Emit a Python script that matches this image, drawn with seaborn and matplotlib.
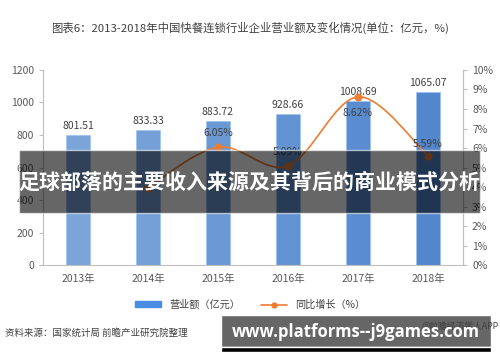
import matplotlib
matplotlib.use("Agg")
import matplotlib.pyplot as plt
import seaborn as sns
import pandas as pd
import numpy as np
from matplotlib.path import Path
from matplotlib.patches import PathPatch, Rectangle
from matplotlib.lines import Line2D

# data
years = ["2013年", "2014年", "2015年", "2016年", "2017年", "2018年"]
revenue = [801.51, 833.33, 883.72, 928.66, 1008.69, 1065.07]
growth_years = ["2014年", "2015年", "2016年", "2017年", "2018年"]
growth = [3.97, 6.05, 5.09, 8.62, 5.59]
bar_colors = ["#6BA2E9", "#649DE8", "#5997E6", "#5090E5", "#478AE3", "#3E83E1"]

sns.set_style("white")
plt.rcParams["font.family"] = ["Noto Sans CJK SC", "DejaVu Sans"]

df = pd.DataFrame({"year": years, "revenue": revenue})

fig = plt.figure(figsize=(5, 3.62), dpi=100)
ax = fig.add_axes([0.086, 0.267, 0.84, 0.54])

sns.barplot(data=df, x="year", y="revenue", hue="year", palette=bar_colors,
            width=0.33, legend=False, ax=ax, edgecolor="#9cc4f2", linewidth=0.5)
for i, v in enumerate(revenue):
    ax.text(i, v + 25, f"{v:.2f}", ha="center", va="bottom", fontsize=7.5, color="#404040")

ax.set_ylim(0, 1200)
ax.set_yticks(range(0, 1201, 200))
ax.set_xlim(-0.5, 5.5)
ax.set_xlabel("")
ax.set_ylabel("")
ax.spines["top"].set_visible(False)
for s in ["left", "bottom", "right"]:
    ax.spines[s].set_color("#bfbfbf")
    ax.spines[s].set_linewidth(0.8)
ax.tick_params(axis="both", labelsize=7.5, colors="#595959", length=3, width=0.8,
               color="#bfbfbf", direction="out")
ax.tick_params(axis="x", length=0, pad=6)

ax2 = ax.twinx()
ax2.set_ylim(0, 10)
ax2.set_yticks(range(0, 11))
ax2.set_yticklabels([f"{t}%" for t in range(0, 11)])
ax2.tick_params(axis="y", labelsize=7.5, colors="#595959", length=3, width=0.8, color="#bfbfbf")
for s in ["top", "left", "bottom"]:
    ax2.spines[s].set_visible(False)
ax2.spines["right"].set_color("#bfbfbf")
ax2.spines["right"].set_linewidth(0.8)

# smooth line (catmull-rom as bezier path)
gx = np.array([years.index(y) for y in growth_years], dtype=float)
gy = np.array(growth, dtype=float)
verts = [(gx[0], gy[0])]
codes = [Path.MOVETO]
n = len(gx)
for i in range(n - 1):
    p0 = (gx[max(i - 1, 0)], gy[max(i - 1, 0)])
    p1 = (gx[i], gy[i])
    p2 = (gx[i + 1], gy[i + 1])
    p3 = (gx[min(i + 2, n - 1)], gy[min(i + 2, n - 1)])
    c1 = (p1[0] + (p2[0] - p0[0]) / 6, p1[1] + (p2[1] - p0[1]) / 6)
    c2 = (p2[0] - (p3[0] - p1[0]) / 6, p2[1] - (p3[1] - p1[1]) / 6)
    verts += [c1, c2, p2]
    codes += [Path.CURVE4] * 3
ax2.add_patch(PathPatch(Path(verts, codes), facecolor="none", edgecolor="#ED7D31", lw=1.2))
sns.scatterplot(x=gx, y=gy, color="#ED7D31", s=28, edgecolor="#ED7D31", ax=ax2, zorder=5)

offsets = [0.45, 0.45, 0.45, -1.1, 0.35]
for x, y, o in zip(gx, gy, offsets):
    if x == 1:
        continue
    ax2.text(x, y + o, f"{y:.2f}%", ha="center", va="bottom", fontsize=7.5, color="#404040")

# title
fig.text(0.5, 0.922, "图表6：2013-2018年中国快餐连锁行业企业营业额及变化情况(单位：亿元，%)",
         ha="center", va="center", fontsize=8.2, color="#404040")

# legend
handles = [Rectangle((0, 0), 1, 1, color="#4A8EE4"),
           Line2D([0], [0], color="#ED7D31", lw=1.2, marker="o", markersize=3.5)]
fig.legend(handles, ["营业额（亿元）", "同比增长（%）"], loc="center", bbox_to_anchor=(0.5, 0.158),
           ncol=2, frameon=False, fontsize=7.3, handlelength=2.6, handleheight=0.5,
           columnspacing=2.0, labelcolor="#404040")

# source
fig.text(0.01, 0.08, "资料来源：国家统计局 前瞻产业研究院整理", ha="left", va="center",
         fontsize=6.8, color="#404040")

# overlay band
fig.patches.append(Rectangle((0.038, 1 - 213 / 362), 0.922, 63 / 362, transform=fig.transFigure,
                             facecolor="black", alpha=0.6, zorder=10))
fig.text(0.498, 1 - 182 / 362, "足球部落的主要收入来源及其背后的商业模式分析", ha="center", va="center",
         fontsize=15.1, color="white", fontweight="bold", zorder=11)

# bottom banner
fig.patches.append(Rectangle((221 / 500, 1 - 347 / 362), 270 / 500, 32 / 362, transform=fig.transFigure,
                             facecolor="#666666", zorder=10))
fig.patches.append(Rectangle((221 / 500, 1 - 352 / 362), 270 / 500, 5 / 362, transform=fig.transFigure,
                             facecolor="black", zorder=10))
fig.text(0.998, 1 - 326 / 362, "@前瞻经济学人APP", ha="right", va="center", fontsize=6.3,
         color="#404040", zorder=10.5)
fig.text(356 / 500, 1 - 332 / 362, "www.platforms--j9games.com", ha="center", va="center",
         fontsize=12, color="white", fontweight="bold", family=["Open Sans", "DejaVu Sans"], zorder=11)

fig.savefig("out.png", dpi=100)
